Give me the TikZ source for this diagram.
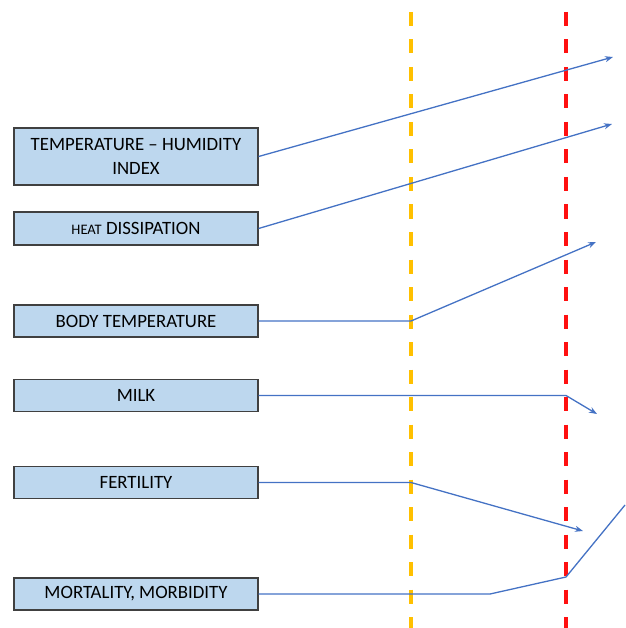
\documentclass[tikz,border=0pt]{standalone}
\usepackage{fontspec}
\setmainfont{Carlito}
\usepackage{tikz}
\usetikzlibrary{arrows.meta}
\definecolor{boxfill}{HTML}{BDD7EE}
\definecolor{boxline}{HTML}{404040}
\definecolor{linkblue}{HTML}{4472C4}
\definecolor{dashorange}{HTML}{FFC000}
\definecolor{dashred}{HTML}{FF1010}

\begin{document}
\begin{tikzpicture}[x=1pt,y=-1pt,
  factor/.style={draw=boxline,line width=1.2pt,fill=boxfill,minimum width=244pt,minimum height=32pt,
    inner sep=0pt,align=center,font=\fontsize{18.8}{24}\selectfont},
  link/.style={draw=linkblue,line width=1.3pt,-{Stealth[length=8pt,width=6pt]}},
  limit/.style={line width=4pt,dash pattern=on 14pt off 13.5pt}]
  \useasboundingbox (0,0) rectangle (625,628);
  % threshold lines
  \draw[limit,dashorange] (411,12) -- (411,628);
  \draw[limit,dashred] (566,12) -- (566,628);
  % factors
  \node[factor,minimum height=57pt] (thi) at (136,156.5) {TEMPERATURE -- HUMIDITY\\INDEX};
  \node[factor,minimum height=33pt] (heat) at (136,228.5) {{\fontsize{14.5}{16}\selectfont HEAT} DISSIPATION};
  \node[factor] (body) at (136,321) {BODY TEMPERATURE};
  \node[factor] (milk) at (136,395.5) {MILK};
  \node[factor] (fert) at (136,482.5) {FERTILITY};
  \node[factor] (mort) at (136,594) {MORTALITY, MORBIDITY};
  % trends
  \coordinate (thi2) at (613,57);
  \coordinate (heat2) at (612,124);
  \coordinate (body1) at (411,321);
  \coordinate (body2) at (596,242);
  \coordinate (milk1) at (566,395.5);
  \coordinate (milk2) at (597,414);
  \coordinate (fert1) at (411,482.5);
  \coordinate (fert2) at (583,531);
  \coordinate (mort1) at (490,594);
  \coordinate (mort2) at (566,577);
  \coordinate (mort3) at (625,505);
  \draw[link] (thi.east) -- (thi2);
  \draw[link] (heat.east) -- (heat2);
  \draw[link] (body.east) -- (body1) -- (body2);
  \draw[link] (milk.east) -- (milk1) -- (milk2);
  \draw[link] (fert.east) -- (fert1) -- (fert2);
  \draw[link,-] (mort.east) -- (mort1) -- (mort2) -- (mort3);
\end{tikzpicture}
\end{document}
